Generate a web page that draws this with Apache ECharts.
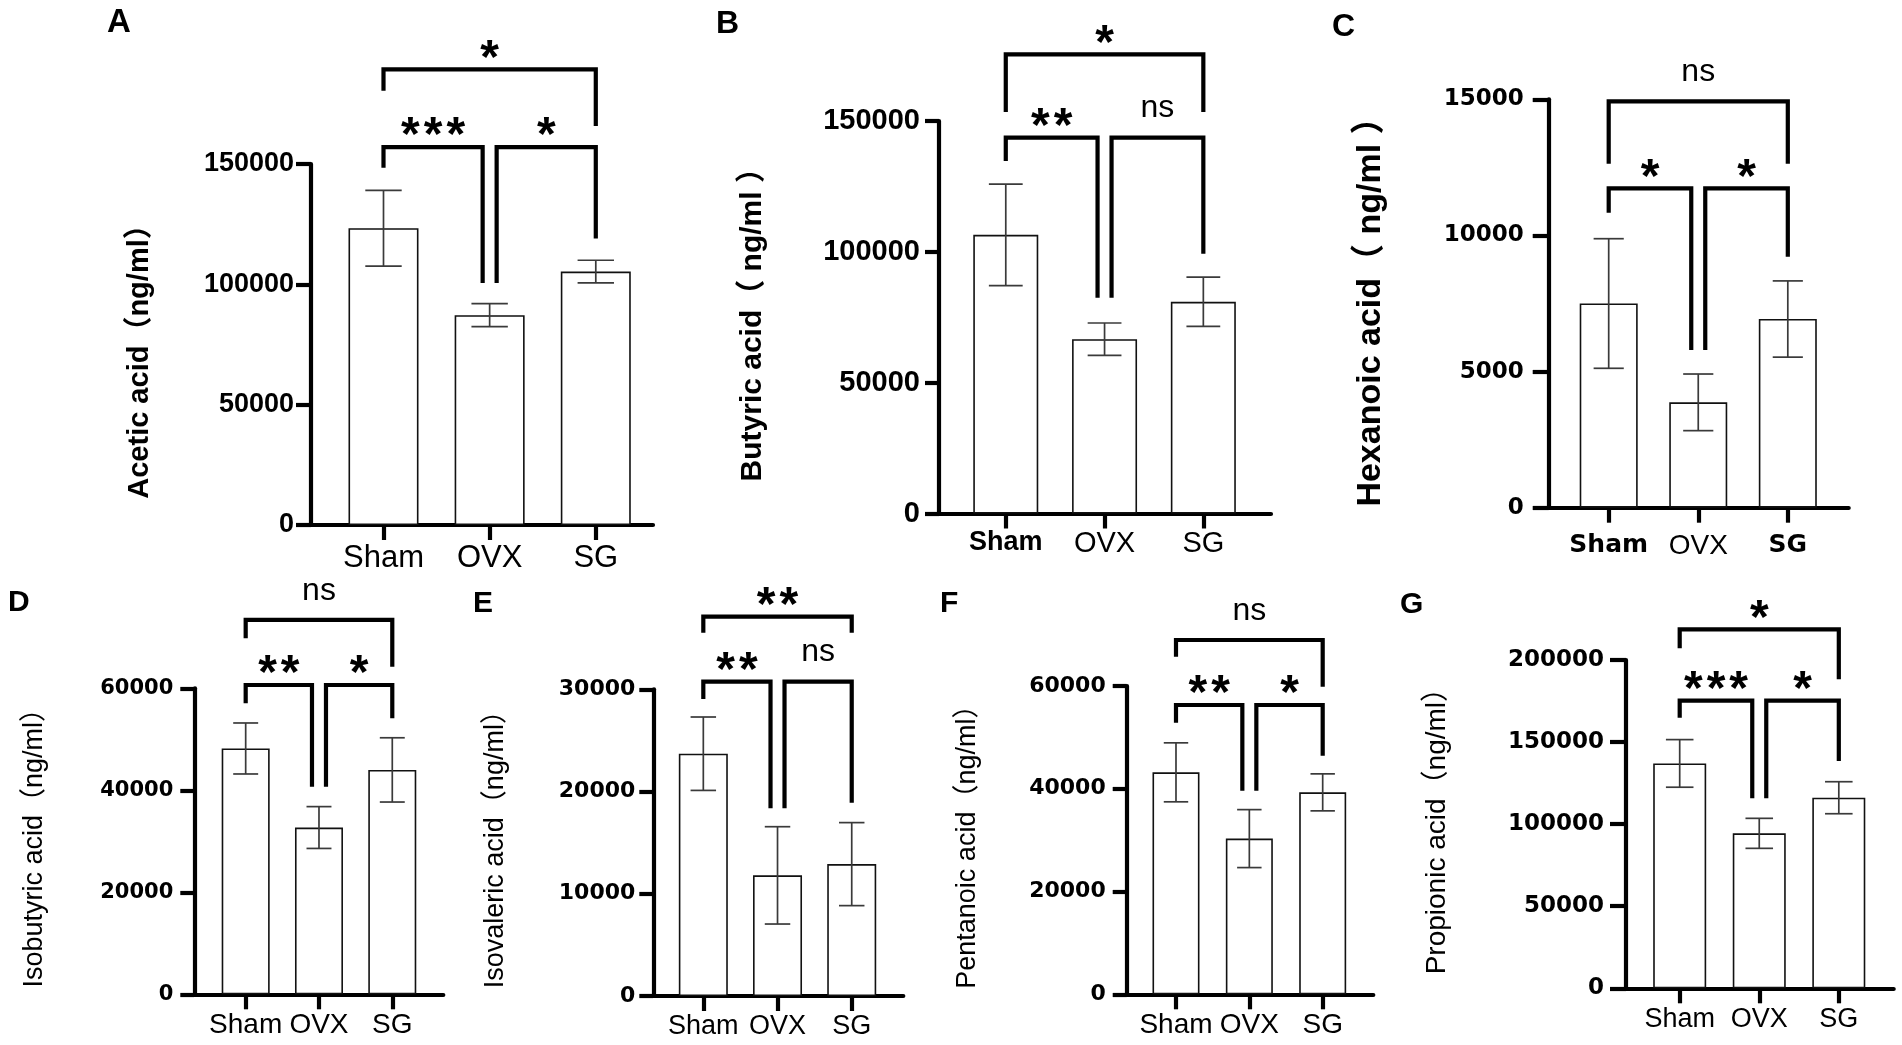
<!DOCTYPE html>
<html>
<head>
<meta charset="utf-8">
<script src="https://cdn.jsdelivr.net/npm/echarts@6/dist/echarts.min.js"></script>
<style>
html,body{margin:0;padding:0;background:#fff;}
#chart{width:1902px;height:1045px;}
</style>
</head>
<body>
<div id="chart"></div>
<script>
// ---------------- DATA ----------------
const categories = ['Sham', 'OVX', 'SG'];
const panelLetters = ['A', 'B', 'C', 'D', 'E', 'F', 'G'];

// A  Acetic acid
const aceticMean = [123300, 87200, 105300];
const aceticSD   = [15700, 4800, 4700];
const aceticTicks = [0, 50000, 100000, 150000];
const aceticSig = [[0, 2, 189300, 180400, 165800], [0, 1, 157050, 148460, 100570], [1, 2, 157050, 100570, 119000]];
const aceticSigLabels = ['*', '***', '*'];

// B  Butyric acid
const butyricMean = [106500, 66600, 80900];
const butyricSD   = [19400, 6200, 9400];
const butyricTicks = [0, 50000, 100000, 150000];
const butyricSig = [[0, 2, 175450, 153400, 153400], [0, 1, 143650, 134750, 82430], [1, 2, 143650, 82430, 99250]];
const butyricSigLabels = ['*', '**', 'ns'];

// C  Hexanoic acid
const hexanoicMean = [7500, 3870, 6930];
const hexanoicSD   = [2380, 1040, 1400];
const hexanoicTicks = [0, 5000, 10000, 15000];
const hexanoicSig = [[0, 2, 14927, 12637, 12637], [0, 1, 11731, 10837, 5792], [1, 2, 11731, 5792, 9220]];
const hexanoicSigLabels = ['ns', '*', '*'];

// D  Isobutyric acid
const isobutyricMean = [48200, 32700, 44000];
const isobutyricSD   = [5000, 4100, 6300];
const isobutyricTicks = [0, 20000, 40000, 60000];
const isobutyricSig = [[0, 2, 73400, 69800, 64250], [0, 1, 60650, 57060, 40720], [1, 2, 60650, 40720, 54120]];
const isobutyricSigLabels = ['ns', '**', '*'];

// E  Isovaleric acid
const isovalericMean = [23700, 11800, 12900];
const isovalericSD   = [3590, 4760, 4060];
const isovalericTicks = [0, 10000, 20000, 30000];
const isovalericSig = [[0, 2, 37110, 35540, 35540], [0, 1, 30750, 29050, 18360], [1, 2, 30750, 18360, 18910]];
const isovalericSigLabels = ['**', '**', 'ns'];

// F  Pentanoic acid
const pentanoicMean = [43200, 30300, 39300];
const pentanoicSD   = [5740, 5640, 3600];
const pentanoicTicks = [0, 20000, 40000, 60000];
const pentanoicSig = [[0, 2, 68950, 65700, 59870], [0, 1, 56300, 52870, 39630], [1, 2, 56300, 39630, 46440]];
const pentanoicSigLabels = ['ns', '**', '*'];

// G  Propionic acid
const propionicMean = [137000, 94400, 116100];
const propionicSD   = [14500, 9140, 9750];
const propionicTicks = [0, 50000, 100000, 150000, 200000];
const propionicSig = [[0, 2, 218680, 207100, 188220], [0, 1, 175230, 164870, 115740], [1, 2, 175230, 115740, 138480]];
const propionicSigLabels = ['*', '***', '*'];

// ---------------- PANELS (layout & style) ----------------
const LIB = "'Liberation Sans','Noto Sans CJK SC',Arial,sans-serif";
const DJV = "'DejaVu Sans','Liberation Sans',sans-serif";
const panels = [
  {lx:107, ly:6, lsize:33, title:'Acetic acid（ng/ml）', mean:aceticMean, sd:aceticSD, ticks:aceticTicks, sig:aceticSig, sigL:aceticSigLabels,
   L:311, R:653, T:164, B:525, xMin:-0.683, xMax:2.539, barW:70,
   tickFont:LIB, tickSize:27, tickMargin:17, tickLen:15,
   titleFont:LIB, titleSize:29, titleWeight:'bold', nameGap:156, namePad:20,
   catStyle:['r','r','r'], catR:{fontFamily:LIB, fontSize:31, fontWeight:'normal'}, catB:{fontFamily:LIB, fontSize:31, fontWeight:'bold'}, catMargin:18},
  {lx:716, ly:8, lsize:32, title:'Butyric acid（ ng/ml ）', mean:butyricMean, sd:butyricSD, ticks:butyricTicks, sig:butyricSig, sigL:butyricSigLabels,
   L:939, R:1271, T:121, B:513.5, xMin:-0.676, xMax:2.685, barW:65,
   tickFont:LIB, tickSize:29, tickMargin:19, tickLen:14,
   titleFont:LIB, titleSize:30, titleWeight:'bold', nameGap:171, namePad:0,
   catStyle:['b','r','r'], catR:{fontFamily:LIB, fontSize:29, fontWeight:'normal'}, catB:{fontFamily:LIB, fontSize:27, fontWeight:'bold'}, catMargin:16},
  {lx:1332, ly:11, lsize:32, title:'Hexanoic acid（ ng/ml ）', mean:hexanoicMean, sd:hexanoicSD, ticks:hexanoicTicks, sig:hexanoicSig, sigL:hexanoicSigLabels,
   L:1548.7, R:1848.7, T:99.3, B:507.7, xMin:-0.670, xMax:2.68, barW:58,
   tickFont:DJV, tickSize:23, tickMargin:25, tickLen:16,
   titleFont:LIB, titleSize:34, titleWeight:'bold', nameGap:161, namePad:0,
   catStyle:['b','r','b'], catR:{fontFamily:LIB, fontSize:28, fontWeight:'normal'}, catB:{fontFamily:DJV, fontSize:25, fontWeight:'bold'}, catMargin:25},
  {lx:8, ly:588, lsize:30, title:'Isobutyric acid（ng/ml）', mean:isobutyricMean, sd:isobutyricSD, ticks:isobutyricTicks, sig:isobutyricSig, sigL:isobutyricSigLabels,
   L:194.3, R:443.3, T:688.3, B:994.3, xMin:-0.701, xMax:2.696, barW:48,
   tickFont:DJV, tickSize:21, tickMargin:21, tickLen:14,
   titleFont:LIB, titleSize:27, titleWeight:'normal', nameGap:146, namePad:0,
   catStyle:['r','r','r'], catR:{fontFamily:LIB, fontSize:28, fontWeight:'normal'}, catB:{fontFamily:LIB, fontSize:28, fontWeight:'bold'}, catMargin:17},
  {lx:473, ly:589, lsize:30, title:'Isovaleric acid（ng/ml）', mean:isovalericMean, sd:isovalericSD, ticks:isovalericTicks, sig:isovalericSig, sigL:isovalericSigLabels,
   L:653.3, R:903.3, T:689.3, B:996, xMin:-0.674, xMax:2.695, barW:49,
   tickFont:DJV, tickSize:22, tickMargin:18, tickLen:14,
   titleFont:LIB, titleSize:27, titleWeight:'normal', nameGap:144, namePad:0,
   catStyle:['r','r','r'], catR:{fontFamily:LIB, fontSize:27, fontWeight:'normal'}, catB:{fontFamily:LIB, fontSize:27, fontWeight:'bold'}, catMargin:17},
  {lx:940, ly:589, lsize:30, title:'Pentanoic acid（ng/ml）', mean:pentanoicMean, sd:pentanoicSD, ticks:pentanoicTicks, sig:pentanoicSig, sigL:pentanoicSigLabels,
   L:1126.7, R:1373.3, T:686, B:994.3, xMin:-0.672, xMax:2.69, barW:47,
   tickFont:DJV, tickSize:22, tickMargin:21, tickLen:14,
   titleFont:LIB, titleSize:27, titleWeight:'normal', nameGap:146, namePad:0,
   catStyle:['r','r','r'], catR:{fontFamily:LIB, fontSize:28, fontWeight:'normal'}, catB:{fontFamily:LIB, fontSize:28, fontWeight:'bold'}, catMargin:17},
  {lx:1400, ly:590, lsize:30, title:'Propionic acid（ng/ml）', mean:propionicMean, sd:propionicSD, ticks:propionicTicks, sig:propionicSig, sigL:propionicSigLabels,
   L:1626, R:1893.7, T:660, B:988.3, xMin:-0.675, xMax:2.69, barW:53,
   tickFont:DJV, tickSize:23, tickMargin:22, tickLen:16,
   titleFont:LIB, titleSize:28, titleWeight:'normal', nameGap:175, namePad:0,
   catStyle:['r','r','r'], catR:{fontFamily:LIB, fontSize:27, fontWeight:'normal'}, catB:{fontFamily:LIB, fontSize:27, fontWeight:'bold'}, catMargin:18}
];

const W = 1902, H = 1045;
const chart = echarts.init(document.getElementById('chart'), null, {renderer:'canvas', width:W, height:H});

const grid = [], xAxis = [], yAxis = [], series = [], graphic = [];
const AXW = 4.2;

panels.forEach((p, i) => {
  graphic.push({type:'text', left:p.lx, top:p.ly, silent:true,
    style:{text:panelLetters[i], fill:'#000', fontFamily:LIB, fontSize:p.lsize, fontWeight:'bold'}});
  grid.push({left:p.L, top:p.T, width:p.R - p.L, height:p.B - p.T, containLabel:false});
  const idx = [0, 1, 2];
  xAxis.push({
    type:'value', gridIndex:i, min:p.xMin, max:p.xMax,
    splitLine:{show:false},
    axisLine:{show:true, onZero:false, lineStyle:{color:'#000', width:AXW}},
    axisTick:{show:true, customValues:idx, length:15, lineStyle:{color:'#000', width:AXW}},
    axisLabel:{show:true, customValues:idx, margin:p.catMargin, color:'#000',
      formatter:(v) => { const k = Math.round(v); return '{' + p.catStyle[k] + '|' + categories[k] + '}'; },
      rich:{r:Object.assign({color:'#000'}, p.catR), b:Object.assign({color:'#000'}, p.catB)}}
  });
  const tk = p.ticks;
  yAxis.push({
    type:'value', gridIndex:i, min:tk[0], max:tk[tk.length - 1], interval:tk[1] - tk[0],
    splitLine:{show:false},
    axisLine:{show:true, onZero:false, lineStyle:{color:'#000', width:AXW}},
    axisTick:{show:true, length:p.tickLen, lineStyle:{color:'#000', width:AXW}},
    axisLabel:{margin:p.tickMargin, color:'#000', fontFamily:p.tickFont, fontSize:p.tickSize, fontWeight:'bold',
      formatter:(v) => String(v)},
    name:p.title, nameLocation:'middle', nameGap:p.nameGap, nameRotate:90,
    nameTextStyle:{color:'#000', fontFamily:p.titleFont, fontSize:p.titleSize, fontWeight:p.titleWeight,
      padding:[0, p.namePad, 0, 0]}
  });
  // bars
  series.push({
    type:'bar', xAxisIndex:i, yAxisIndex:i, barWidth:p.barW, animation:false,
    data:p.mean.map((m, k) => [k, m]),
    itemStyle:{color:'#fff', borderColor:'#111', borderWidth:1.6},
    z:2
  });
  // error bars (mean ± SD)
  const capW = p.barW * 0.52;
  series.push({
    type:'custom', xAxisIndex:i, yAxisIndex:i, animation:false, z:3,
    data:p.mean.map((m, k) => [k, m, p.sd[k]]),
    renderItem:(params, api) => {
      const x = api.value(0), m = api.value(1), e = api.value(2);
      const c = api.coord([x, m]);
      const t = api.coord([x, m + e]);
      const b = api.coord([x, m - e]);
      const hw = capW / 2;
      const st = {stroke:'#3a3a3a', lineWidth:1.7};
      return {type:'group', children:[
        {type:'line', shape:{x1:c[0], y1:t[1], x2:c[0], y2:b[1]}, style:st},
        {type:'line', shape:{x1:c[0] - hw, y1:t[1], x2:c[0] + hw, y2:t[1]}, style:st},
        {type:'line', shape:{x1:c[0] - hw, y1:b[1], x2:c[0] + hw, y2:b[1]}, style:st}
      ]};
    }
  });
  // significance brackets
  const inset = 7;
  series.push({
    type:'custom', xAxisIndex:i, yAxisIndex:i, animation:false, z:4, clip:false,
    data:p.sig.map(s => s.slice()),
    renderItem:(params, api) => {
      const x1 = api.value(0), x2 = api.value(1), yl = api.value(2), ya = api.value(3), yb = api.value(4);
      const pl = api.coord([x1, yl]);
      const pr = api.coord([x2, yl]);
      const xa = pl[0] + (x1 === 1 ? inset : 0);
      const xb = pr[0] - (x2 === 1 ? inset : 0);
      const yLine = pl[1];
      const ya_ = api.coord([x1, ya])[1];
      const yb_ = api.coord([x2, yb])[1];
      const lab = p.sigL[params.dataIndex];
      const isStar = lab.indexOf('*') >= 0;
      const txt = isStar ? lab.split('').join('\u200A') : lab;
      return {type:'group', children:[
        {type:'polyline', shape:{points:[[xa, ya_], [xa, yLine], [xb, yLine], [xb, yb_]]},
         style:{stroke:'#000', lineWidth:4.2, fill:null, lineJoin:'miter', lineCap:'butt'}},
        {type:'text', x:(xa + xb) / 2, y:yLine - (isStar ? 10 : 29),
         style:{text:txt, align:'center', verticalAlign:'middle', fill:'#000',
           fontFamily:LIB, fontSize:isStar ? 48 : 32, fontWeight:isStar ? 'bold' : 'normal'}}
      ]};
    }
  });
});

chart.setOption({
  backgroundColor:'#fff',
  animation:false,
  graphic:graphic,
  grid:grid,
  xAxis:xAxis,
  yAxis:yAxis,
  series:series
});
</script>
</body>
</html>
